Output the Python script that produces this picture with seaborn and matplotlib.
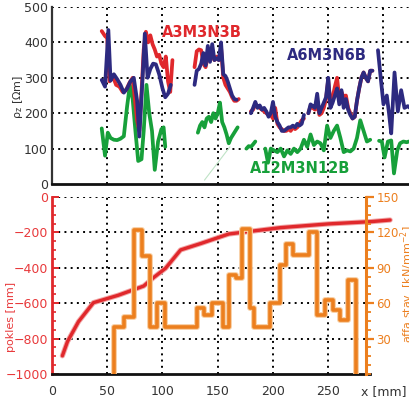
import numpy as np
import pandas as pd
import matplotlib
matplotlib.use("Agg")
import matplotlib.pyplot as plt
import matplotlib.patheffects as pe
from matplotlib.ticker import MultipleLocator
import seaborn as sns

NAN = np.nan

# ---------------- top panel: apparent resistivity profiles ----------------
red_x = [45, 48, 50, 52, 55, 58, 61, 64, 67, 70, 73, 75, 77, 79, 81, 83, 85, 87, 89, 91, 93, 95, 97, 99, 101, 103, 105, 107, 109, NAN,
         129, 131, 133, 135, 137, 139, 141, 143, 145, 147, 149, 151, 153, 155, 157, 159, 161, 163, 165, 167, 169, NAN,
         180, 182, 184, 186, 188, 190, 192, 194, 196, 198, 200, 202, 204, 206, 208, 210, 212, 214, 216, 218, 220, 222, 224, 226, 228, NAN,
         232, 234, 236, 238, 240, 242, 244, 246, 248, 250, 252, 254, 256, 258, 260, 262, 264, 266, 268, 270, 272, 274, 276, 278, 280, 282, 284, 286, 288, 290]
red_y = [432, 418, 412, 290, 305, 280, 275, 260, 265, 285, 300, 240, 180, 150, 260, 380, 430, 400, 420, 395, 380, 360, 365, 340, 330, 360, 290, 260, 350, NAN,
         330, 375, 380, 378, 340, 330, 360, 380, 360, 350, 360, 350, 385, 300, 280, 270, 260, 245, 235, 235, 240, NAN,
         205, 210, 225, 220, 215, 210, 205, 200, 195, 195, 185, 215, 170, 160, 155, 150, 150, 155, 150, 160, 155, 160, 170, 180, 185, NAN,
         200, 220, 215, 210, 230, 195, 200, 215, 240, 295, 225, 245, 275, 300, 240, 260, 245, 250, 215, 200, 185, 190, 235, 270, 300, 315, 300, 290, 320, 320]

blue_x = [45, 48, 51, 53, 56, 59, 62, 65, 68, 71, 74, 77, 79, 82, 84, 86.5, 89, 91.5, 94, 97, 100, 102.5, 105, 107.5, NAN,
          129, 131, 133, 135, 137, 139, 141, 143, 145, 147, 149, 151, 153, 155, 157, 159, 161, 163, 165, 167, NAN,
          180, 182, 184, 186, 188, 190, 192, 194, 196, 198, 200, 202, 204, 206, 208, 210, 212, 214, 216, 218, 220, 222, 224, 226, 228, NAN,
          232, 234, 236, 238, 240, 242, 244, 246, 248, 250, 252, 254, 256, 258, 260, 262, 264, 266, 268, 270, 272, 274, 276, 278, 280, 282, 284, 286, 288, 290, NAN,
          295, 297.5, 300, 303, 305, 307, 310, 313, 316, 319, 322, 324]
blue_y = [294, 275, 435, 292, 310, 296, 280, 258, 270, 290, 300, 236, 134, 300, 425, 300, 325, 340, 338, 310, 270, 245, 255, 280, NAN,
          280, 320, 325, 340, 370, 335, 390, 345, 395, 350, 355, 350, 400, 310, 305, 290, 270, 250, 240, 238, NAN,
          200, 215, 232, 215, 222, 210, 215, 205, 190, 200, 232, 190, 175, 165, 150, 150, 155, 160, 160, 165, 160, 170, 165, 170, 195, NAN,
          200, 225, 220, 215, 255, 200, 215, 230, 245, 300, 215, 230, 250, 270, 225, 265, 215, 240, 210, 195, 185, 190, 235, 270, 300, 315, 300, 290, 320, 320, NAN,
          378, 300, 225, 250, 200, 143, 315, 205, 265, 215, 220, 215]

green_x = [45, 48, 50.5, 53, 56, 59, 62, 65, 68, 70.5, 73, 75.5, 78, 81, 83, 85.5, 88, 90.5, 93, 96, 99, 101, 102.5, NAN,
           132, 134, 136, 138, 140, 142, 144, 146, 148, 150, 152, 154, 156, 158, 160, 162, 164, 166, 168, NAN,
           176, 178, 180, 182, 184, NAN,
           193, 195.5, 198, 201, 204, 207, 210, 213, 216, 219, 222, 225, 228, 231, 234, 237, 240, 243, 246, 249, 252, 255, 258, 261, 264, 267, 270, 273, 276, 279, 282, 285, 288, NAN,
           296, 298.5, 301, 304, 307, 309.5, 312.5, 315, 318, 321, 323]
green_y = [157, 80, 145, 130, 125, 124, 128, 135, 220, 280, 240, 150, 65, 70, 150, 280, 200, 150, 40, 120, 155, 160, 105, NAN,
           145, 165, 175, 160, 185, 190, 175, 200, 185, 200, 230, 175, 160, 140, 115, 130, 140, 150, 160, NAN,
           100, 107, 105, 112, 120, NAN,
           100, 60, 100, 95, 90, 100, 78, 95, 85, 100, 90, 100, 125, 105, 140, 110, 120, 115, 95, 165, 130, 150, 165, 130, 90, 95, 92, 100, 130, 180, 150, 120, 125, NAN,
           122, 120, 75, 120, 123, 30, 95, 115, 120, 118, 120]

faint_x = [138, 161]
faint_y = [11, 105]

series_names = ["A3M3N3B", "A6M3N6B", "A12M3N12B"]

# ---------------- bottom panel ----------------
pokles_x = [9.4, 14, 24, 37.5, 60, 83, 92, 102.7, 116.4, 135, 151, 160, 177, 207, 250, 289, 306]
pokles_y = [-897, -817, -704, -597, -555, -503, -455, -403, -299, -262, -228, -209, -196, -173, -152, -139, -130]

step_x = [56.5, 56.5, 65, 74, 81.5, 88.5, 95, 102, 131, 137.5, 144.5, 155, 160.5, 166.5, 172, 179, 183,
          197.5, 206, 212, 218.5, 232.5, 240, 247, 254.5, 260.5, 268, 275]
step_y = [0, 40, 48, 122, 100, 40, 60, 40, 56, 50, 60, 40, 84, 81, 123, 56, 40,
          60, 92, 110, 101, 120, 50, 63, 54, 46, 80, 0]

xtick_vals = [0, 50, 100, 150, 200, 250, 300]
xtick_labels = ["0", "50", "100", "150", "200", "250", "x [mm]"]

RED = "#E0282C"
NAVY = "#2D2A80"
GREEN = "#17A03A"
ORANGE = "#EC7F1E"
DARK = "#333333"


def seg_frame(x, y):
    df = pd.DataFrame({"x": x, "y": y})
    df["seg"] = df["y"].isna().cumsum()
    return df.dropna()


sns.set_style("white")
plt.rcParams["font.family"] = ["DejaVu Sans"]

fig = plt.figure(figsize=(4.09, 4.01), dpi=100)
W, H = 409, 401
ax1 = fig.add_axes([52 / W, 1 - 184 / H, (W - 52) / W, (184 - 7) / H])
ax_b = fig.add_axes([52 / W, 1 - 374 / H, (W - 52) / W, (374 - 197) / H])

XMAX = (W - 52.3) / 1.104
dot = (0, (1, 2.2))

# ---- top panel ----
ax1.set_xlim(0, XMAX)
ax1.set_ylim(0, 500)
for yv in [100, 200, 300, 400, 500]:
    ax1.axhline(yv, color="black", lw=1.4, ls=dot, zorder=0)
for xv in [50, 100, 150, 200, 250, 300]:
    ax1.axvline(xv, color="black", lw=1.4, ls=dot, zorder=0)

sns.lineplot(x=faint_x, y=faint_y, ax=ax1, color="#bfe3c6", lw=0.8, estimator=None, sort=False)
for (xs, ys, col) in [(green_x, green_y, GREEN), (red_x, red_y, RED), (blue_x, blue_y, NAVY)]:
    df = seg_frame(xs, ys)
    sns.lineplot(data=df, x="x", y="y", units="seg", estimator=None, sort=False,
                 ax=ax1, color=col, lw=2.7, legend=False)

ax1.text(136, 429, series_names[0], color=RED, fontsize=10.5, fontweight="bold", ha="center", va="center")
ax1.text(249, 362, series_names[1], color=NAVY, fontsize=10.5, fontweight="bold", ha="center", va="center")
ax1.text(225, 44, series_names[2], color=GREEN, fontsize=10.5, fontweight="bold", ha="center", va="center")

ax1.set_xlabel("")
ax1.set_ylabel("ρ$_\\mathregular{z}$ [Ωm]", fontsize=8, color=DARK)
ax1.yaxis.set_label_coords(-0.076, 0.49)
ax1.set_xticks([])
ax1.yaxis.set_major_locator(MultipleLocator(100))
ax1.yaxis.set_minor_locator(MultipleLocator(25))
ax1.tick_params(axis="y", which="major", direction="in", length=4, width=1.2, colors=DARK, labelsize=9, pad=3)
ax1.tick_params(axis="y", which="minor", direction="in", length=3, width=1.0, colors=DARK)
for s in ["top", "right"]:
    ax1.spines[s].set_visible(False)
ax1.spines["left"].set_color(DARK)
ax1.spines["left"].set_linewidth(1.6)
ax1.spines["bottom"].set_color("#111111")
ax1.spines["bottom"].set_linewidth(2)

# ---- bottom panel ----
RIGHT_X = 284
ax_b.set_xlim(0, XMAX)
ax_b.set_ylim(-1000, 0)
for yv in [0, -200, -400, -600, -800]:
    ax_b.hlines(yv, 0, RIGHT_X, color="black", lw=1.4, ls=dot, zorder=0)
for xv in [50, 100, 150, 200, 250]:
    ax_b.vlines(xv, -1000, 0, color="black", lw=1.4, ls=dot, zorder=0)

halo_r = [pe.Stroke(linewidth=3.8, foreground="#f2a7a7"), pe.Normal()]
sns.lineplot(x=pokles_x, y=pokles_y, ax=ax_b, color=RED, lw=2.4, estimator=None, sort=False,
             path_effects=halo_r)

ax_b.set_xticks(xtick_vals)
ax_b.set_xticklabels(xtick_labels)
ax_b.xaxis.set_minor_locator(MultipleLocator(25))
ax_b.tick_params(axis="x", which="major", direction="out", length=5, width=1.3, colors="#111111",
                 labelsize=9, labelcolor=DARK, pad=3)
ax_b.tick_params(axis="x", which="minor", direction="out", length=3, width=1.0, colors="#111111")
ax_b.yaxis.set_major_locator(MultipleLocator(200))
ax_b.yaxis.set_minor_locator(MultipleLocator(50))
ax_b.tick_params(axis="y", which="major", direction="in", length=5, width=1.4, colors=RED,
                 labelsize=9, labelcolor="#E8393B", pad=3)
ax_b.tick_params(axis="y", which="minor", direction="in", length=3, width=1.2, colors=RED)
ax_b.set_ylabel("pokles [mm]", fontsize=8, color="#E8393B")
ax_b.yaxis.set_label_coords(-0.1, 0.32)
ax_b.set_xlabel("")
ax_b.spines["top"].set_visible(False)
ax_b.spines["right"].set_visible(False)
ax_b.spines["left"].set_color(RED)
ax_b.spines["left"].set_linewidth(2)
ax_b.spines["bottom"].set_color("#111111")
ax_b.spines["bottom"].set_linewidth(2)
ax_b.spines["bottom"].set_bounds(0, 288)

ax2 = ax_b.twinx()
ax2.set_ylim(0, 150)
halo_o = [pe.Stroke(linewidth=4.2, foreground="#f8cfa4"), pe.Normal()]
sns.lineplot(x=step_x, y=step_y, ax=ax2, color=ORANGE, lw=2.6, estimator=None, sort=False,
             drawstyle="steps-post", path_effects=halo_o)
ax2.spines["right"].set_position(("data", RIGHT_X))
ax2.spines["right"].set_color(ORANGE)
ax2.spines["right"].set_linewidth(2.2)
for s in ["top", "left", "bottom"]:
    ax2.spines[s].set_visible(False)
ax2.set_yticks([30, 60, 90, 120, 150])
ax2.yaxis.set_minor_locator(MultipleLocator(7.5))
ax2.tick_params(axis="y", which="major", direction="out", length=6, width=1.6, colors=ORANGE,
                labelsize=8.5, pad=1.5)
ax2.tick_params(axis="y", which="minor", direction="out", length=3.5, width=1.3, colors=ORANGE)
ax2.set_ylabel("affa stav. [kN/mm$^{-2}$]", fontsize=8, color=ORANGE)
ax2.yaxis.label.set_horizontalalignment("right")
ax2.yaxis.set_label_coords(0.972, 0.84)

fig.savefig("out.png", dpi=100)
